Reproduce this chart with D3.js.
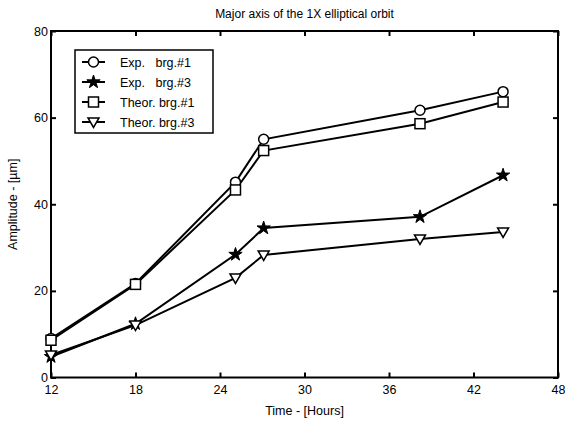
<!DOCTYPE html>
<html><head><meta charset="utf-8">
<script src="https://cdn.jsdelivr.net/npm/d3@7"></script>
<style>body{margin:0;background:#fff}svg text{font-family:"Liberation Sans",Arial,sans-serif;fill:#000}</style>
</head><body><svg id="c" width="565" height="423"></svg>
<script>
const hours = [12, 18, 25.1, 27.1, 38.2, 44.1];
const expBrg1 = [9.0, 21.7, 45.1, 55.0, 61.7, 66.0];
const expBrg3 = [4.8, 12.4, 28.4, 34.5, 37.1, 46.7];
const theorBrg1 = [8.6, 21.5, 43.3, 52.4, 58.6, 63.6];
const theorBrg3 = [5.2, 12.1, 23.0, 28.3, 32.0, 33.6];
const seriesNames = ["Exp.   brg.#1", "Exp.   brg.#3", "Theor. brg.#1", "Theor. brg.#3"];
const xTicks = [12, 18, 24, 30, 36, 42, 48];
const yTicks = [0, 20, 40, 60, 80];

const svg = d3.select("#c");
const L = 51, R = 558, T = 31, B = 377.5;
const x = d3.scaleLinear().domain([12, 48]).range([L, R]);
const y = d3.scaleLinear().domain([0, 80]).range([B, T]);

const series = [
  {name: seriesNames[0], vals: expBrg1, sym: "circle"},
  {name: seriesNames[1], vals: expBrg3, sym: "star"},
  {name: seriesNames[2], vals: theorBrg1, sym: "square"},
  {name: seriesNames[3], vals: theorBrg3, sym: "tri"}
];

function marker(g, sym, cx, cy) {
  if (sym === "circle") g.append("circle").attr("cx", cx).attr("cy", cy).attr("r", 5).attr("fill", "#fff").attr("stroke", "#000").attr("stroke-width", 1.5);
  else if (sym === "square") g.append("rect").attr("x", cx - 5).attr("y", cy - 5).attr("width", 10).attr("height", 10).attr("fill", "#fff").attr("stroke", "#000").attr("stroke-width", 1.5);
  else if (sym === "star") g.append("path").attr("d", d3.symbol(d3.symbolStar, 55)()).attr("transform", `translate(${cx},${cy})`).attr("fill", "#000").attr("stroke", "#000").attr("stroke-width", 1);
  else if (sym === "tri") g.append("path").attr("d", `M${cx-5.5},${cy-4}L${cx+5.5},${cy-4}L${cx},${cy+5.5}Z`).attr("fill", "#fff").attr("stroke", "#000").attr("stroke-width", 1.5);
}

// frame
svg.append("rect").attr("x", L).attr("y", T).attr("width", R - L).attr("height", B - T).attr("fill", "none").attr("stroke", "#000").attr("stroke-width", 2);

// axes with inward ticks
const xa = svg.append("g").attr("transform", `translate(0,${B})`).call(d3.axisBottom(x).tickValues(xTicks).tickSize(-5).tickPadding(8).tickFormat(d3.format("d")));
const xt = svg.append("g").attr("transform", `translate(0,${T})`).call(d3.axisTop(x).tickValues(xTicks).tickSize(-5).tickFormat(""));
const ya = svg.append("g").attr("transform", `translate(${L},0)`).call(d3.axisLeft(y).tickValues(yTicks).tickSize(-5).tickPadding(3).tickFormat(d3.format("d")));
const yr = svg.append("g").attr("transform", `translate(${R},0)`).call(d3.axisRight(y).tickValues(yTicks).tickSize(-5).tickFormat(""));
[xa, xt, ya, yr].forEach(a => {
  a.select(".domain").remove();
  a.selectAll(".tick line").attr("stroke", "#000").attr("stroke-width", 2);
  a.selectAll("text").attr("font-size", 12.5).attr("font-family", '"Liberation Sans",Arial,sans-serif').attr("fill", "#000");
});
xa.selectAll("text").attr("dy", "0.71em");

// lines
const line = d3.line().x((d, i) => x(hours[i])).y(d => y(d));
series.forEach(s => {
  svg.append("path").attr("d", line(s.vals)).attr("fill", "none").attr("stroke", "#000").attr("stroke-width", 2);
});
series.forEach(s => {
  const g = svg.append("g");
  s.vals.forEach((v, i) => marker(g, s.sym, x(hours[i]), y(v)));
});

// titles
svg.append("text").attr("x", (L + R) / 2).attr("y", 18).attr("text-anchor", "middle").attr("font-size", 12).text("Major axis of the 1X elliptical orbit");
svg.append("text").attr("x", (L + R) / 2).attr("y", 415).attr("text-anchor", "middle").attr("font-size", 12.5).text("Time - [Hours]");
svg.append("text").attr("transform", `translate(17,${(T + B) / 2}) rotate(-90)`).attr("text-anchor", "middle").attr("font-size", 12.5).text("Amplitude - [µm]");

// legend
const lg = svg.append("g");
lg.append("rect").attr("x", 75).attr("y", 50).attr("width", 138).attr("height", 83).attr("fill", "#fff").attr("stroke", "#000").attr("stroke-width", 1.5);
series.forEach((s, i) => {
  const yy = 62 + i * 20;
  lg.append("line").attr("x1", 82).attr("x2", 105).attr("y1", yy).attr("y2", yy).attr("stroke", "#000").attr("stroke-width", 2);
  marker(lg, s.sym, 93.5, yy);
  lg.append("text").attr("x", 120).attr("y", yy + 4.5).attr("font-size", 12.5).attr("xml:space", "preserve").style("white-space", "pre").text(s.name);
});
</script></body></html>
